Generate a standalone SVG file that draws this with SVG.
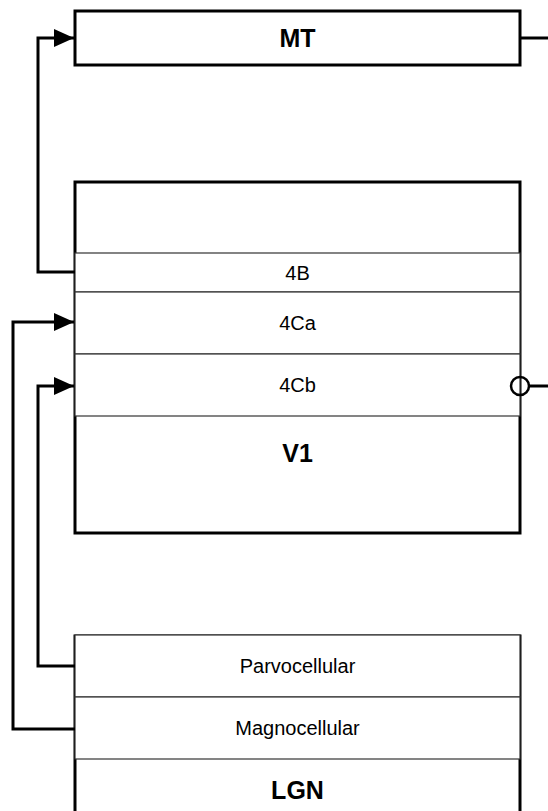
<svg xmlns="http://www.w3.org/2000/svg" width="548" height="811" viewBox="0 0 548 811">
<style>
.box{fill:#fff;stroke:#000;stroke-width:3}
.layer{fill:#fff;stroke:#333;stroke-width:1.2}
.lbl{font-family:"Liberation Sans",Arial,sans-serif;font-size:20px;fill:#000;text-anchor:middle}
.title{font-family:"Liberation Sans",Arial,sans-serif;font-size:25px;font-weight:bold;fill:#000;text-anchor:middle}
.conn{fill:none;stroke:#000;stroke-width:3}
</style>
<defs>
<marker id="arr" viewBox="0 0 20 18" refX="20" refY="9" markerWidth="20" markerHeight="18" markerUnits="userSpaceOnUse" orient="auto">
<path d="M0,0 L20,9 L0,18 z" fill="#000"/>
</marker>
</defs>
<rect width="548" height="811" fill="#fff"/>
<g id="MT">
<rect class="box" x="75" y="11" width="445" height="54"/>
<text class="title" x="297.5" y="47">MT</text>
</g>
<g id="V1">
<rect class="box" x="75" y="182" width="445" height="351"/>
<g id="V1-4B">
<rect class="layer" x="75" y="253" width="445" height="39"/>
<text class="lbl" x="297.5" y="279.7">4B</text>
</g>
<g id="V1-4Ca">
<rect class="layer" x="75" y="292" width="445" height="62"/>
<text class="lbl" x="297.5" y="330.2">4Ca</text>
</g>
<g id="V1-4Cb">
<rect class="layer" x="75" y="354" width="445" height="62"/>
<text class="lbl" x="297.5" y="392.2">4Cb</text>
</g>
<text class="title" x="297.5" y="462">V1</text>
</g>
<g id="LGN">
<rect class="box" x="75" y="636" width="445" height="200"/>
<g id="LGN-Parvocellular">
<rect class="layer" x="75" y="635" width="445" height="62"/>
<text class="lbl" x="297.5" y="673.2">Parvocellular</text>
</g>
<g id="LGN-Magnocellular">
<rect class="layer" x="75" y="697" width="445" height="62"/>
<text class="lbl" x="297.5" y="735.2">Magnocellular</text>
</g>
<text class="title" x="297.5" y="799">LGN</text>
</g>
<g id="connectors">
<path class="conn" d="M75,272 H38 V38 H74" marker-end="url(#arr)"/>
<path class="conn" d="M75,729 H13 V322 H74" marker-end="url(#arr)"/>
<path class="conn" d="M75,666 H38 V386 H74" marker-end="url(#arr)"/>
<path class="conn" d="M520,38 H548"/>
<circle cx="520" cy="386" r="9" fill="none" stroke="#000" stroke-width="2.5"/>
<path class="conn" d="M529,386 H548"/>
</g>
</svg>
